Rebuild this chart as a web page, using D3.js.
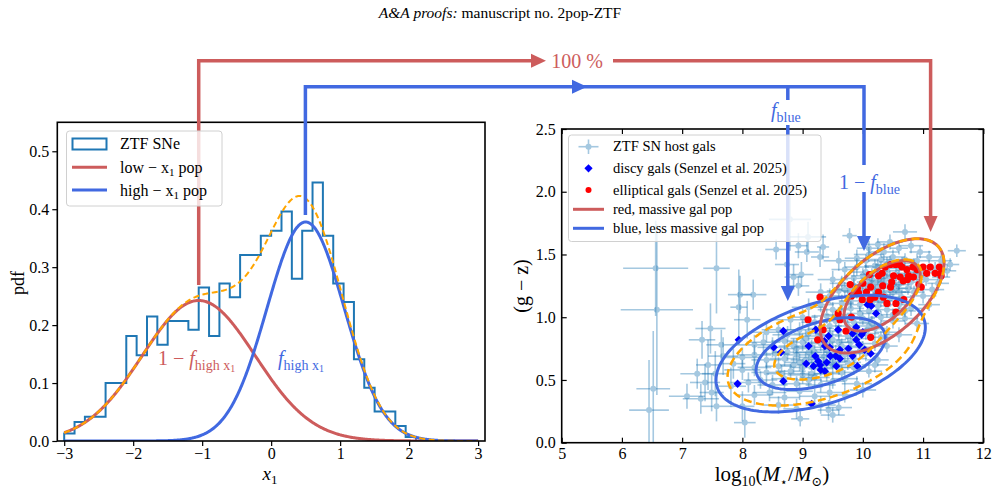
<!DOCTYPE html>
<html><head><meta charset="utf-8">
<script src="https://cdn.jsdelivr.net/npm/d3@7"></script>
<style>
body{margin:0;background:#fff}
svg{display:block}
text{font-family:"Liberation Serif","DejaVu Serif",serif;fill:#000}
</style>
</head><body>
<svg id="c" width="997" height="492"></svg>
<script>
// ---------------- DATA ----------------
const histBinStart = -3.0;
const histBinWidth = 0.15;
const histHeights = [0.013,0.033,0.042,0.042,0.100,0.100,0.181,0.148,0.215,0.166,0.207,0.207,0.192,0.265,0.181,0.272,0.248,0.321,0.321,0.354,0.363,0.396,0.280,0.363,0.446,0.354,0.272,0.240,0.141,0.092,0.051,0.051,0.026,0.007];
const lowPop  = {mu:-1.05, sigma:0.82, amp:0.2425};
const highPop = {mu:0.50,  sigma:0.56, amp:0.378};
const xTicksL = [-3,-2,-1,0,1,2,3];
const yTicksL = [0,0.1,0.2,0.3,0.4,0.5];
const xTicksR = [5,6,7,8,9,10,11,12];
const yTicksR = [0,0.5,1.0,1.5,2.0,2.5];

const redGalPop  = {mx:10.32, my:1.17, sx:0.42, sy:0.186, rho:0.57};
const blueGalPop = {mx:9.30,  my:0.71, sx:0.71, sy:0.19,  rho:0.45};
const fBlue = 0.5;
const contourProbs = [0.68, 0.95];

// [log10 M, g-z, xerr, yerr]
const hostGals = [
[6.56,1.39,0.54,0.38],[6.58,1.06,0.60,0.68],[6.52,0.43,0.28,0.46],[6.45,0.26,0.33,0.40],
[7.57,1.39,0.22,0.36],[7.96,1.18,0.20,0.15],[8.18,1.18,0.22,0.12],[7.94,1.08,0.14,0.30],[8.08,0.98,0.22,0.15],
[7.47,0.91,0.25,0.20],[7.33,0.82,0.22,0.15],[7.65,0.78,0.25,0.12],[7.43,0.62,0.20,0.20],[7.38,0.48,0.25,0.15],
[7.49,0.40,0.20,0.15],[7.31,0.35,0.30,0.12],[7.57,0.29,0.25,0.12],[8.00,0.29,0.20,0.12],[8.04,0.16,0.18,0.12],
[7.81,0.45,0.25,0.15],[7.85,0.63,0.20,0.12],[7.68,0.69,0.25,0.15],[7.08,0.37,0.30,0.10],[7.25,0.55,0.28,0.12],[7.55,0.55,0.22,0.18],
[8.79,1.78,0.35,0.25],[9.09,1.64,0.30,0.12],[8.93,1.57,0.15,0.10],[9.07,1.52,0.20,0.08],[9.29,1.48,0.15,0.08],
[9.34,1.56,0.10,0.10],[9.78,1.65,0.12,0.06],[8.85,1.32,0.15,0.10],[8.98,1.34,0.20,0.10],[8.93,1.25,0.18,0.08],
[8.74,1.42,0.20,0.10],[8.56,1.54,0.18,0.08],[11.56,1.53,0.15,0.05],[10.70,1.68,0.20,0.06],[8.96,0.19,0.15,0.06],[9.43,0.26,0.18,0.08],
[10.25,1.58,0.18,0.05],[10.45,1.60,0.22,0.06],[10.60,1.55,0.15,0.05],[10.80,1.57,0.20,0.06],[10.95,1.52,0.18,0.05],[10.35,1.52,0.25,0.07],[10.10,1.55,0.20,0.06],
[9.90,1.47,0.20,0.07],[10.10,1.50,0.25,0.06],[10.30,1.46,0.18,0.05],[10.50,1.48,0.20,0.06],[10.70,1.46,0.15,0.05],[10.90,1.45,0.22,0.06],[11.10,1.48,0.20,0.05],[11.30,1.45,0.18,0.06],[9.60,1.45,0.25,0.08],
[9.70,1.38,0.22,0.06],[9.90,1.40,0.20,0.07],[10.05,1.36,0.25,0.06],[10.20,1.41,0.18,0.05],[10.40,1.37,0.22,0.06],[10.60,1.39,0.20,0.05],[10.75,1.35,0.18,0.06],[11.00,1.36,0.22,0.05],[11.20,1.38,0.20,0.06],[11.40,1.37,0.15,0.05],
[9.50,1.30,0.25,0.07],[9.65,1.27,0.20,0.06],[9.85,1.31,0.22,0.06],[10.00,1.26,0.25,0.05],[10.15,1.30,0.18,0.06],[10.30,1.27,0.22,0.05],[10.45,1.31,0.20,0.06],[10.60,1.26,0.18,0.05],[10.80,1.28,0.22,0.06],[11.05,1.30,0.20,0.05],[11.25,1.27,0.18,0.06],
[9.30,1.20,0.25,0.07],[9.45,1.17,0.22,0.06],[9.60,1.21,0.20,0.06],[9.75,1.16,0.25,0.06],[9.90,1.20,0.22,0.05],[10.05,1.17,0.20,0.06],[10.20,1.21,0.25,0.05],[10.35,1.18,0.18,0.06],[10.50,1.20,0.22,0.05],[10.65,1.16,0.20,0.06],[10.85,1.20,0.18,0.05],[11.00,1.17,0.22,0.06],
[9.10,1.08,0.28,0.07],[9.30,1.10,0.22,0.06],[9.50,1.06,0.25,0.06],[9.65,1.11,0.20,0.07],[9.80,1.07,0.22,0.06],[9.95,1.10,0.25,0.05],[10.10,1.05,0.20,0.06],[10.25,1.09,0.22,0.05],[10.40,1.06,0.18,0.06],[10.60,1.10,0.20,0.05],[10.80,1.07,0.22,0.06],
[8.80,0.98,0.30,0.08],[9.00,1.00,0.25,0.07],[9.20,0.96,0.22,0.06],[9.40,1.01,0.25,0.06],[9.55,0.97,0.20,0.07],[9.70,1.00,0.22,0.06],[9.85,0.96,0.25,0.06],[10.00,0.99,0.20,0.05],[10.15,0.95,0.22,0.06],[10.30,1.00,0.18,0.05],[10.50,0.97,0.20,0.06],[10.70,0.99,0.22,0.05],
[8.40,0.88,0.30,0.08],[8.60,0.90,0.28,0.07],[8.75,0.86,0.25,0.07],[8.95,0.90,0.22,0.06],[9.10,0.87,0.25,0.06],[9.30,0.91,0.22,0.07],[9.45,0.86,0.20,0.06],[9.60,0.89,0.25,0.06],[9.75,0.85,0.22,0.05],[9.90,0.90,0.20,0.06],[10.05,0.87,0.22,0.05],[10.20,0.91,0.18,0.06],[10.40,0.88,0.20,0.05],[10.60,0.86,0.22,0.06],
[8.20,0.78,0.30,0.08],[8.35,0.80,0.28,0.07],[8.50,0.76,0.25,0.08],[8.70,0.81,0.22,0.07],[8.85,0.77,0.25,0.06],[9.00,0.80,0.22,0.07],[9.15,0.76,0.25,0.06],[9.30,0.79,0.20,0.06],[9.50,0.82,0.22,0.07],[9.65,0.77,0.25,0.06],[9.80,0.80,0.20,0.06],[10.00,0.76,0.22,0.05],[10.20,0.79,0.20,0.06],[10.40,0.77,0.18,0.05],
[8.00,0.68,0.30,0.08],[8.20,0.70,0.28,0.08],[8.40,0.66,0.25,0.07],[8.55,0.71,0.22,0.07],[8.70,0.67,0.25,0.06],[8.90,0.70,0.22,0.07],[9.05,0.66,0.25,0.06],[9.20,0.72,0.20,0.06],[9.35,0.68,0.22,0.07],[9.50,0.65,0.25,0.06],[9.70,0.70,0.20,0.06],[9.85,0.67,0.22,0.05],[10.05,0.71,0.20,0.06],[10.25,0.66,0.18,0.05],
[8.00,0.58,0.30,0.08],[8.20,0.60,0.28,0.07],[8.40,0.56,0.25,0.08],[8.60,0.61,0.22,0.07],[8.80,0.57,0.25,0.06],[9.00,0.60,0.22,0.07],[9.15,0.55,0.25,0.06],[9.30,0.59,0.20,0.06],[9.50,0.62,0.22,0.07],[9.65,0.56,0.25,0.06],[9.85,0.60,0.20,0.06],[10.10,0.57,0.22,0.05],
[8.10,0.48,0.30,0.08],[8.30,0.50,0.28,0.07],[8.50,0.46,0.25,0.08],[8.70,0.51,0.22,0.07],[8.90,0.47,0.25,0.06],[9.10,0.50,0.22,0.07],[9.30,0.46,0.25,0.06],[9.50,0.49,0.20,0.06],[9.70,0.51,0.22,0.07],[9.90,0.47,0.25,0.06],
[8.20,0.38,0.30,0.08],[8.45,0.40,0.28,0.07],[8.70,0.36,0.25,0.08],[8.95,0.41,0.22,0.07],[9.20,0.37,0.25,0.06],[9.45,0.40,0.22,0.07],[9.70,0.38,0.20,0.06],[10.00,0.42,0.22,0.06],
[8.60,0.30,0.25,0.07],[8.90,0.27,0.22,0.08],[9.30,0.30,0.25,0.07],[9.60,0.28,0.22,0.06],[9.50,0.22,0.20,0.06],
[10.90,0.95,0.20,0.06],[11.10,1.10,0.18,0.05],[10.20,0.62,0.22,0.06],
[10.15,1.34,0.20,0.05],[10.35,1.33,0.18,0.06],[10.55,1.34,0.20,0.05],[10.25,1.24,0.22,0.06],[10.55,1.23,0.20,0.05],[10.70,1.31,0.18,0.05],[10.40,1.42,0.20,0.06],[9.95,1.23,0.22,0.06],[9.80,1.13,0.20,0.06],[10.30,1.13,0.20,0.05],
[9.25,0.64,0.22,0.06],[9.40,0.74,0.20,0.06],[9.10,0.72,0.22,0.07],[9.55,0.72,0.20,0.06],[8.95,0.64,0.25,0.07],
[10.05,1.45,0.20,0.05],[10.25,1.40,0.22,0.06],[10.45,1.44,0.18,0.05],[10.65,1.43,0.20,0.05],[10.85,1.41,0.22,0.06],[10.10,1.28,0.20,0.05],[10.35,1.29,0.22,0.05],[10.50,1.26,0.18,0.06],[10.75,1.23,0.20,0.05],[10.90,1.33,0.22,0.06],
[10.00,1.33,0.20,0.06],[10.20,1.18,0.22,0.05],[10.45,1.15,0.20,0.05],[10.60,1.20,0.18,0.06],[9.85,1.25,0.22,0.06],[9.70,1.22,0.20,0.06],[10.15,1.12,0.20,0.05],[9.95,1.03,0.22,0.06],[9.75,0.93,0.20,0.06],[9.60,1.02,0.22,0.06],
[9.90,0.83,0.20,0.05],[10.10,0.93,0.22,0.05],[9.45,0.93,0.20,0.06],[9.25,0.85,0.22,0.06],[9.05,0.83,0.25,0.07],[8.90,0.75,0.22,0.07],[9.40,0.55,0.22,0.06],[9.20,0.52,0.25,0.07],[9.60,0.60,0.20,0.06],[9.75,0.64,0.22,0.06],
[9.00,0.54,0.25,0.07],[8.85,0.62,0.22,0.07],[8.65,0.55,0.25,0.07],[9.45,0.70,0.20,0.06],[9.60,0.80,0.22,0.06],[9.15,0.68,0.22,0.06],[9.35,0.62,0.20,0.06],[8.75,0.72,0.25,0.07],[9.95,0.73,0.20,0.05],[10.30,0.84,0.20,0.05],
[10.50,1.02,0.20,0.05],[10.70,1.05,0.18,0.05],[11.15,1.22,0.20,0.05],[11.30,1.32,0.15,0.05],[11.45,1.42,0.15,0.05]
];
const discyGals = [
[7.94,0.82],[8.68,0.89],[8.52,0.76],[8.64,0.72],[7.92,0.47],[8.68,0.49],[9.15,0.31],[9.22,0.90],[9.10,0.77],[9.21,0.69],
[9.06,0.63],[9.18,0.61],[9.29,0.62],[9.37,0.77],[9.36,0.81],[9.43,0.85],[9.37,0.57],[9.46,0.69],[9.55,0.69],[9.59,0.90],
[9.56,0.61],[9.62,0.67],[9.62,0.74],[9.76,0.75],[9.83,0.69],[9.83,0.87],[9.89,0.92],[9.89,0.82],[9.94,0.78],[9.91,0.61],
[9.98,0.86],[10.00,0.88],[10.03,0.74],[10.08,1.10],[10.14,1.09],[10.22,1.03],[10.13,0.71],[9.26,0.65],[9.30,0.58],[9.40,0.64],[9.45,0.76]
];
const ellipticalGals = [
[9.29,1.16],[9.09,0.98],[9.59,1.03],[9.34,0.90],[9.62,0.98],[9.25,0.82],[9.79,1.26],[9.87,1.20],[9.93,1.19],[10.00,1.27],
[10.11,1.34],[10.26,1.33],[10.32,1.35],[10.37,1.40],[10.46,1.42],[10.54,1.42],[10.61,1.42],[10.65,1.40],[10.73,1.38],[10.83,1.40],
[10.90,1.38],[11.00,1.40],[11.12,1.40],[11.27,1.40],[11.29,1.35],[11.20,1.35],[11.06,1.35],[11.30,1.33],[10.97,1.24],[10.93,1.26],
[10.76,1.33],[10.74,1.30],[10.84,1.32],[10.51,1.33],[10.48,1.28],[10.46,1.24],[10.34,1.16],[10.40,1.11],[10.55,1.11],[10.55,1.04],
[10.68,1.14],[10.26,1.20],[10.20,1.16],[10.12,1.14],[10.06,1.20],[9.81,1.17],[9.91,1.23],[9.99,1.14],[10.13,1.24],[10.33,1.25],
[10.62,1.32],[10.67,1.29],[10.13,0.84],[9.72,0.89],[9.81,1.00]
];

// ---------------- SETUP ----------------
const svg = d3.select('#c');
const RED = '#cd5c5c', BLUE = '#4169e1', ORANGE = '#ffa500', C0 = '#1f77b4';
const FONT = '"Liberation Serif","DejaVu Serif",serif';
const defs = svg.append('defs');

const title = svg.append('text').attr('x', 500).attr('y', 18).attr('text-anchor','middle').attr('font-size', 15.5);
title.append('tspan').attr('font-style','italic').text('A&A proofs:');
title.append('tspan').text(' manuscript no. 2pop-ZTF');

function addParts(textSel, parts){
  parts.forEach(p=>{
    const t = textSel.append('tspan').text(p.t);
    if(p.i) t.attr('font-style','italic');
    if(p.s) t.attr('font-size', p.s);
    if(p.b) t.attr('baseline-shift', p.b);
  });
  return textSel;
}

// ---------------- LEFT PANEL ----------------
const xL = d3.scaleLinear().domain([-3.1,3.1]).range([57.3,485]);
const yL = d3.scaleLinear().domain([0,0.55]).range([441,122.3]);
defs.append('clipPath').attr('id','clipL').append('rect')
  .attr('x',57.3).attr('y',122.3).attr('width',485-57.3).attr('height',441-122.3);
const gL = svg.append('g');
const gLc = gL.append('g').attr('clip-path','url(#clipL)');

const stepPts = [[histBinStart,0]];
histHeights.forEach((h,i)=>{ stepPts.push([histBinStart+i*histBinWidth,h]); stepPts.push([histBinStart+(i+1)*histBinWidth,h]); });
stepPts.push([histBinStart+histHeights.length*histBinWidth,0]);
const lineL = d3.line().x(d=>xL(d[0])).y(d=>yL(d[1]));
gLc.append('path').attr('d', lineL(stepPts)).attr('fill','none').attr('stroke',C0).attr('stroke-width',2);

const gaussF = (p,x)=>p.amp*Math.exp(-0.5*((x-p.mu)/p.sigma)**2);
const xs = d3.range(-3, 3.0001, 0.01);
gLc.append('path').attr('d', lineL(xs.map(x=>[x,gaussF(lowPop,x)]))).attr('fill','none').attr('stroke',RED).attr('stroke-width',3);
gLc.append('path').attr('d', lineL(xs.map(x=>[x,gaussF(highPop,x)]))).attr('fill','none').attr('stroke',BLUE).attr('stroke-width',3);
gLc.append('path').attr('d', lineL(xs.map(x=>[x,gaussF(lowPop,x)+gaussF(highPop,x)]))).attr('fill','none').attr('stroke',ORANGE).attr('stroke-width',2).attr('stroke-dasharray','6,3.5');

const axL = gL.append('g').attr('transform','translate(57.3,0)')
  .call(d3.axisLeft(yL).tickValues(yTicksL).tickFormat(d3.format('.1f')).tickSize(5).tickPadding(3));
const axB = gL.append('g').attr('transform','translate(0,441)')
  .call(d3.axisBottom(xL).tickValues(xTicksL).tickFormat(d3.format('d')).tickSize(5).tickPadding(2));
[axL,axB].forEach(a=>{ a.select('.domain').remove(); a.selectAll('line').attr('stroke','#000').attr('stroke-width',1.2);
  a.selectAll('text').attr('font-size',16).attr('font-family',FONT); });
gL.append('rect').attr('x',57.3).attr('y',122.3).attr('width',485-57.3).attr('height',441-122.3)
  .attr('fill','none').attr('stroke','#000').attr('stroke-width',1.6);
svg.append('text').attr('transform','translate(24,283) rotate(-90)').attr('text-anchor','middle').attr('font-size',18).text('pdf');
addParts(svg.append('text').attr('x',270).attr('y',480).attr('text-anchor','middle').attr('font-size',19),
  [{t:'x',i:true},{t:'1',s:13,b:-4}]);

addParts(svg.append('text').attr('x',158).attr('y',365).attr('font-size',20).style('fill',RED),
  [{t:'1 − '},{t:'f',i:true},{t:'high x',s:14,b:-5},{t:'1',s:10,b:-7}]);
addParts(svg.append('text').attr('x',278).attr('y',365).attr('font-size',20).style('fill',BLUE),
  [{t:'f',i:true},{t:'high x',s:14,b:-5},{t:'1',s:10,b:-7}]);

// ---------------- RIGHT PANEL ----------------
const xR = d3.scaleLinear().domain([5,12]).range([561.7,983.3]);
const yR = d3.scaleLinear().domain([0,2.5]).range([442.7,129]);
defs.append('clipPath').attr('id','clipR').append('rect')
  .attr('x',561.7).attr('y',129).attr('width',983.3-561.7).attr('height',442.7-129);
const gR = svg.append('g');
const gRc = gR.append('g').attr('clip-path','url(#clipR)');

const hg = gRc.append('g');
hostGals.forEach(d=>{
  const g = hg.append('g').attr('opacity',0.4);
  g.append('line').attr('x1',xR(d[0]-d[2])).attr('x2',xR(d[0]+d[2])).attr('y1',yR(d[1])).attr('y2',yR(d[1])).attr('stroke',C0).attr('stroke-width',1.6);
  g.append('line').attr('x1',xR(d[0])).attr('x2',xR(d[0])).attr('y1',yR(d[1]-d[3])).attr('y2',yR(d[1]+d[3])).attr('stroke',C0).attr('stroke-width',1.6);
  g.append('circle').attr('cx',xR(d[0])).attr('cy',yR(d[1])).attr('r',3).attr('fill',C0);
});
const diamond = d3.symbol().type(d3.symbolDiamond2).size(44);
gRc.append('g').selectAll('path').data(discyGals).join('path')
  .attr('d', diamond).attr('transform', d=>`translate(${xR(d[0])},${yR(d[1])})`).attr('fill','#0000ff');
gRc.append('g').selectAll('circle').data(ellipticalGals).join('circle')
  .attr('cx', d=>xR(d[0])).attr('cy', d=>yR(d[1])).attr('r',3.6).attr('fill','#ff0000');

function ellipsePts(p, r){
  const c = Math.sqrt(1-p.rho*p.rho);
  return d3.range(0, 2*Math.PI, Math.PI/90).map(t=>[
    xR(p.mx + r*p.sx*Math.cos(t)),
    yR(p.my + r*(p.rho*p.sy*Math.cos(t) + p.sy*c*Math.sin(t)))]);
}
const closed = d3.line().curve(d3.curveLinearClosed);
const radii = contourProbs.map(q=>Math.sqrt(-2*Math.log(1-q)));
radii.forEach(r=>{
  gRc.append('path').attr('d', closed(ellipsePts(redGalPop,r))).attr('fill','none').attr('stroke',RED).attr('stroke-width',3);
  gRc.append('path').attr('d', closed(ellipsePts(blueGalPop,r))).attr('fill','none').attr('stroke',BLUE).attr('stroke-width',3);
});

function g2(p,x,y){ const dx=(x-p.mx)/p.sx, dy=(y-p.my)/p.sy, r=p.rho;
  const q=(dx*dx-2*r*dx*dy+dy*dy)/(1-r*r); return Math.exp(-q/2)/(2*Math.PI*p.sx*p.sy*Math.sqrt(1-r*r)); }
const nx=281, ny=126, gx0=5, gy0=0, gdx=7/(nx-1), gdy=2.5/(ny-1);
const vals = new Float64Array(nx*ny);
for(let j=0;j<ny;j++) for(let i=0;i<nx;i++){
  const x=gx0+i*gdx, y=gy0+j*gdy;
  vals[j*nx+i] = fBlue*g2(blueGalPop,x,y) + (1-fBlue)*g2(redGalPop,x,y);
}
const sorted = Array.from(vals).sort((a,b)=>b-a);
const tot = d3.sum(sorted);
const thr = contourProbs.map(q=>{ let c=0; for(let k=0;k<sorted.length;k++){ c+=sorted[k]; if(c>=q*tot) return sorted[k]; } return sorted[sorted.length-1]; });
const cont = d3.contours().size([nx,ny]).thresholds(thr)(vals);
const proj = d3.geoTransform({point:function(x,y){ this.stream.point(xR(gx0+(x-0.5)*gdx), yR(gy0+(y-0.5)*gdy)); }});
const gp = d3.geoPath(proj);
gRc.append('g').selectAll('path').data(cont).join('path').attr('d', gp)
  .attr('fill','none').attr('stroke',ORANGE).attr('stroke-width',2.5).attr('stroke-dasharray','8,4.5');

const aB = gR.append('g').attr('transform','translate(0,442.7)').call(d3.axisBottom(xR).tickValues(xTicksR).tickFormat(d3.format('d')).tickSize(-5).tickPadding(5));
const aT = gR.append('g').attr('transform','translate(0,129)').call(d3.axisTop(xR).tickValues(xTicksR).tickFormat('').tickSize(-5));
const aLf = gR.append('g').attr('transform','translate(561.7,0)').call(d3.axisLeft(yR).tickValues(yTicksR).tickFormat(d3.format('.1f')).tickSize(-5).tickPadding(6));
const aRt = gR.append('g').attr('transform','translate(983.3,0)').call(d3.axisRight(yR).tickValues(yTicksR).tickFormat('').tickSize(-5));
[aB,aT,aLf,aRt].forEach(a=>{ a.select('.domain').remove(); a.selectAll('line').attr('stroke','#000').attr('stroke-width',1.2);
  a.selectAll('text').attr('font-size',16).attr('font-family',FONT); });
gR.append('rect').attr('x',561.7).attr('y',129).attr('width',983.3-561.7).attr('height',442.7-129)
  .attr('fill','none').attr('stroke','#000').attr('stroke-width',1.6);
svg.append('text').attr('transform','translate(528,286) rotate(-90)').attr('text-anchor','middle').attr('font-size',20).text('(g − z)');
addParts(svg.append('text').attr('x',772).attr('y',481).attr('text-anchor','middle').attr('font-size',21),
  [{t:'log'},{t:'10',s:14,b:-5},{t:'('},{t:'M',i:true},{t:'⋆',s:12,b:-5},{t:'/'},{t:'M',i:true},{t:'⊙',s:13,b:-5},{t:')'}]);

// ---------------- ARROWS ----------------
const ga = svg.append('g').attr('fill','none').attr('stroke-width',3.5).attr('stroke-linejoin','miter');
const pl = d3.line();
ga.append('path').attr('d', pl([[198.7,285],[198.7,60.7],[532,60.7]])).attr('stroke',RED);
ga.append('path').attr('d', pl([[613,60.7],[930.6,60.7],[930.6,218]])).attr('stroke',RED);
ga.append('path').attr('d', pl([[305.4,215],[305.4,86.8],[864,86.8],[864,165]])).attr('stroke',BLUE);
ga.append('path').attr('d', pl([[864,192],[864,238]])).attr('stroke',BLUE);
ga.append('path').attr('d', pl([[787.8,86.8],[787.8,100]])).attr('stroke',BLUE);
ga.append('path').attr('d', pl([[787.8,125],[787.8,288]])).attr('stroke',BLUE);
const tri = (pts,col)=>svg.append('path').attr('d', closed(pts)).attr('fill',col);
tri([[531,53.7],[546,60.7],[531,67.7]], RED);
tri([[572,79.8],[587,86.8],[572,93.8]], BLUE);
tri([[923.6,216],[937.6,216],[930.6,232]], RED);
tri([[857,236],[871,236],[864,251]], BLUE);
tri([[780.8,286],[794.8,286],[787.8,301]], BLUE);
svg.append('text').attr('x',577).attr('y',67.5).attr('text-anchor','middle').attr('font-size',20).style('fill',RED).text('100 %');
addParts(svg.append('text').attr('x',771).attr('y',117).attr('font-size',20).style('fill',BLUE),
  [{t:'f',i:true},{t:'blue',s:14,b:-5}]);
addParts(svg.append('text').attr('x',839).attr('y',189).attr('font-size',20).style('fill',BLUE),
  [{t:'1 − '},{t:'f',i:true},{t:'blue',s:14,b:-5}]);

// ---------------- LEGENDS ----------------
const lgL = svg.append('g');
lgL.append('rect').attr('x',66.5).attr('y',131).attr('width',155.5).attr('height',75).attr('rx',3)
  .attr('fill','#fff').attr('fill-opacity',0.8).attr('stroke','#d0d0d0').attr('stroke-width',1);
lgL.append('rect').attr('x',72.5).attr('y',138.5).attr('width',34).attr('height',11).attr('fill','none').attr('stroke',C0).attr('stroke-width',2);
lgL.append('line').attr('x1',72).attr('x2',107).attr('y1',167.3).attr('y2',167.3).attr('stroke',RED).attr('stroke-width',3);
lgL.append('line').attr('x1',72).attr('x2',107).attr('y1',190).attr('y2',190).attr('stroke',BLUE).attr('stroke-width',3);
lgL.append('text').attr('x',120).attr('y',149).attr('font-size',16).text('ZTF SNe');
addParts(lgL.append('text').attr('x',120).attr('y',172.5).attr('font-size',16), [{t:'low − x'},{t:'1',s:11,b:-3},{t:' pop'}]);
addParts(lgL.append('text').attr('x',120).attr('y',195.5).attr('font-size',16), [{t:'high − x'},{t:'1',s:11,b:-3},{t:' pop'}]);

const lgR = svg.append('g');
lgR.append('rect').attr('x',568.5).attr('y',135).attr('width',252.5).attr('height',106.5).attr('rx',3)
  .attr('fill','#fff').attr('fill-opacity',0.8).attr('stroke','#d0d0d0').attr('stroke-width',1);
const hx = 588.5;
const hgl = lgR.append('g').attr('opacity',0.4);
hgl.append('line').attr('x1',hx-10).attr('x2',hx+10).attr('y1',146.7).attr('y2',146.7).attr('stroke',C0).attr('stroke-width',1.6);
hgl.append('line').attr('x1',hx).attr('x2',hx).attr('y1',139.5).attr('y2',154).attr('stroke',C0).attr('stroke-width',1.6);
hgl.append('circle').attr('cx',hx).attr('cy',146.7).attr('r',3).attr('fill',C0);
lgR.append('path').attr('d',diamond()).attr('transform',`translate(${hx},168.3)`).attr('fill','#0000ff');
lgR.append('circle').attr('cx',hx).attr('cy',190).attr('r',3).attr('fill','#ff0000');
lgR.append('line').attr('x1',573).attr('x2',604).attr('y1',209.3).attr('y2',209.3).attr('stroke',RED).attr('stroke-width',3);
lgR.append('line').attr('x1',573).attr('x2',604).attr('y1',228.3).attr('y2',228.3).attr('stroke',BLUE).attr('stroke-width',3);
const rlab = ['ZTF SN host gals','discy gals (Senzel et al. 2025)','elliptical gals (Senzel et al. 2025)','red, massive gal pop','blue, less massive gal pop'];
const rly = [146.7,168.3,190,209.3,228.3];
rlab.forEach((s,i)=>lgR.append('text').attr('x',613).attr('y',rly[i]+4.5).attr('font-size',14.5).text(s));
</script>
</body></html>
